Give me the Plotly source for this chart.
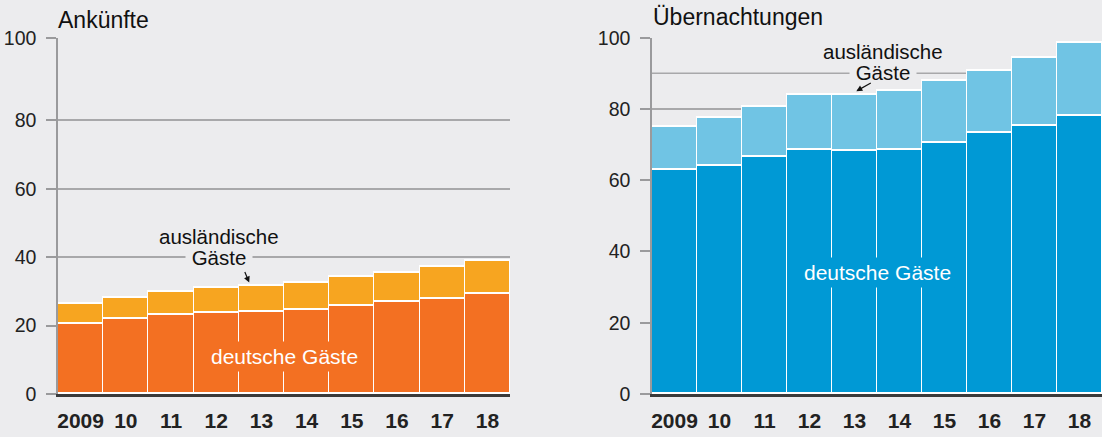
import plotly.graph_objects as go

# ---- data ----
years = ["2009", "10", "11", "12", "13", "14", "15", "16", "17", "18"]
ank_deutsch = [20.7, 21.9, 23.1, 23.9, 24.2, 24.7, 25.8, 26.9, 28.0, 29.2]
ank_total = [26.3, 28.2, 29.8, 31.2, 31.7, 32.5, 34.2, 35.4, 37.3, 39.1]
ueb_deutsch = [63.0, 64.2, 66.7, 68.7, 68.2, 68.6, 70.6, 73.3, 75.2, 78.2]
ueb_total = [75.0, 77.5, 80.6, 84.0, 84.1, 85.1, 88.0, 90.7, 94.3, 98.6]
ank_ausl = [round(t - d, 2) for t, d in zip(ank_total, ank_deutsch)]
ueb_ausl = [round(t - d, 2) for t, d in zip(ueb_total, ueb_deutsch)]
y_ticks_left = [0, 20, 40, 60, 80, 104.2]
y_ticks_right = [0, 20, 40, 60, 80, 100]
y_tick_text = ["0", "20", "40", "60", "80", "100"]

W, H = 1102, 437
BG = "#ececee"
GRID = "#a8a8aa"
FONT = "Liberation Sans, Arial, Helvetica, sans-serif"
ORANGE_D, ORANGE_A = "#f37022", "#f7a520"
BLUE_D, BLUE_A = "#0099d5", "#70c4e4"

def px(x):
    return x / W

def py(y):
    return 1 - y / H

xs = list(range(len(years)))

fig = go.Figure()
bar_line = dict(color="white", width=1.5)
fig.add_trace(go.Bar(x=xs, y=ank_deutsch, marker=dict(color=ORANGE_D, line=bar_line),
                     xaxis="x", yaxis="y", hoverinfo="skip"))
fig.add_trace(go.Bar(x=xs, y=ank_ausl, marker=dict(color=ORANGE_A, line=bar_line),
                     xaxis="x", yaxis="y", hoverinfo="skip"))
fig.add_trace(go.Bar(x=xs, y=ueb_deutsch, marker=dict(color=BLUE_D, line=bar_line),
                     xaxis="x2", yaxis="y2", hoverinfo="skip"))
fig.add_trace(go.Bar(x=xs, y=ueb_ausl, marker=dict(color=BLUE_A, line=bar_line),
                     xaxis="x2", yaxis="y2", hoverinfo="skip"))

ydom = [43 / H, 399.3 / H]
xaxis_common = dict(
    tickmode="array", tickvals=xs, ticktext=years, range=[-0.5, 9.5],
    showgrid=False, zeroline=False, showline=True, linecolor="#3a3a3a", linewidth=2.5,
    ticks="", ticklabelstandoff=6, automargin=False,
    tickfont=dict(family=FONT, size=21, color="#222", weight="bold"),
    fixedrange=True,
)
yaxis_common = dict(
    showgrid=True, gridcolor=GRID, gridwidth=1.5, zeroline=False,
    showline=True, linecolor="#9a9a9c", linewidth=1.5,
    ticks="outside", ticklen=10, tickcolor="#9a9a9c", tickwidth=1.5,
    tickfont=dict(family=FONT, size=19.5, color="#222"),
    ticktext=y_tick_text, tickmode="array", ticklabelstandoff=6,
    domain=ydom, fixedrange=True, automargin=False,
)

fig.update_layout(
    width=W, height=H, autosize=False,
    margin=dict(l=0, r=0, t=0, b=0, pad=0),
    paper_bgcolor=BG, plot_bgcolor=BG,
    barmode="stack", bargap=0, showlegend=False,
    xaxis=dict(domain=[58 / W, 510 / W], anchor="y", **xaxis_common),
    xaxis2=dict(domain=[652 / W, 1.0], anchor="y2", **xaxis_common),
    yaxis=dict(anchor="x", range=[0, 104.2], tickvals=y_ticks_left, **yaxis_common),
    yaxis2=dict(anchor="x2", range=[0, 100], tickvals=y_ticks_right, **yaxis_common),
)

# leader line at 90 in the right panel
fig.add_shape(type="line", xref="x2", yref="y2", x0=-0.5, x1=9.5, y0=90, y1=90,
              line=dict(color=GRID, width=1.5), layer="below")

ann = []
txt = dict(family=FONT, color="#111")
ann.append(dict(text="Ankünfte", x=px(56), y=py(20), xref="paper", yref="paper",
                xanchor="left", yanchor="middle", showarrow=False, font=dict(size=23, **txt)))
ann.append(dict(text="Übernachtungen", x=px(651), y=py(17), xref="paper", yref="paper",
                xanchor="left", yanchor="middle", showarrow=False, font=dict(size=23, **txt)))
# foreign guests labels
for cx, y1, y2 in [(219, 236, 257), (883, 51.5, 72.5)]:
    ann.append(dict(text="ausländische", x=px(cx), y=py(y1), xref="paper", yref="paper",
                    xanchor="center", yanchor="middle", showarrow=False, borderpad=0,
                    font=dict(size=20.5, **txt)))
    ann.append(dict(text="Gäste", x=px(cx), y=py(y2), xref="paper", yref="paper",
                    xanchor="center", yanchor="middle", showarrow=False,
                    font=dict(size=20.5, **txt), bgcolor=BG, borderpad=0,
                    width=66))
# arrows
ann.append(dict(text="", x=3.73, y=32.6, xref="x", yref="y", ax=-5, ay=-12,
                showarrow=True, arrowhead=2, arrowsize=1, arrowwidth=1.2, arrowcolor="#111"))
ann.append(dict(text="", x=4.04, y=85.0, xref="x2", yref="y2", ax=16, ay=-9,
                showarrow=True, arrowhead=2, arrowsize=1, arrowwidth=1.2, arrowcolor="#111"))
# domestic guests labels
ann.append(dict(text="deutsche Gäste", x=px(284), y=py(356), xref="paper", yref="paper",
                xanchor="center", yanchor="middle", showarrow=False,
                font=dict(size=21, family=FONT, color="white"), bgcolor=ORANGE_D, borderpad=3))
ann.append(dict(text="deutsche Gäste", x=px(877), y=py(272), xref="paper", yref="paper",
                xanchor="center", yanchor="middle", showarrow=False,
                font=dict(size=21, family=FONT, color="white"), bgcolor=BLUE_D, borderpad=3))
fig.update_layout(annotations=ann)

fig.write_html("out.html", config={"displayModeBar": False, "staticPlot": False},
               post_script="document.body.style.margin='0';document.body.style.overflow='hidden';")
